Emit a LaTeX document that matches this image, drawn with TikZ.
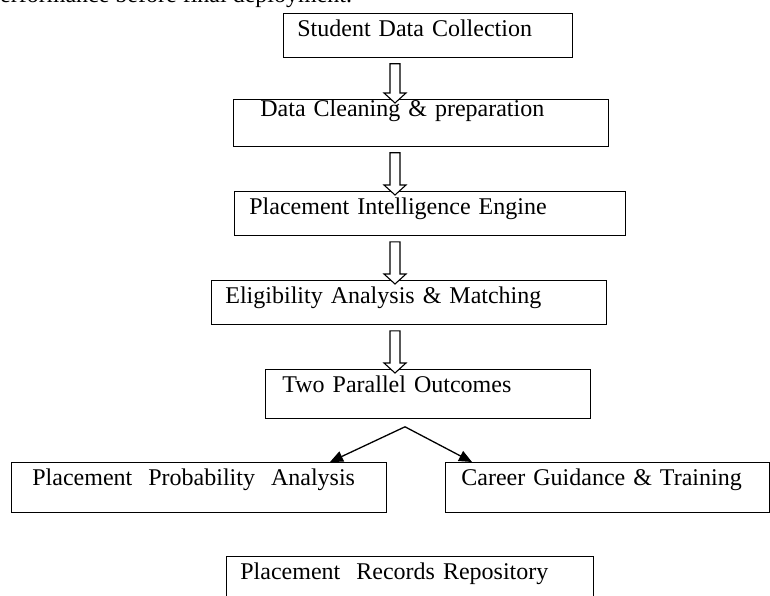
\documentclass[tikz,border=0pt]{standalone}
\usepackage{fontspec}
\setmainfont{Liberation Serif}
\usetikzlibrary{calc,arrows.meta}

% open block arrow straight down between two stages
\newcommand{\hollowarrow}[2]{%
  \draw[hollow] let \p1=($(#1.south -| spine)+(0,6)$), \p2=($(#2.north -| spine)+(0,4)$) in
    (\x1-5pt,\y1) -- (\x1+5pt,\y1) -- (\x1+5pt,\y2+10pt) -- (\x1+11pt,\y2+10pt)
    -- (\x1,\y2) -- (\x1-11pt,\y2+10pt) -- (\x1-5pt,\y2+10pt) -- cycle;}

\begin{document}
\begin{tikzpicture}
    [x=1pt, y=-1pt,
     stage/.style={draw, line width=0.8pt, rectangle, anchor=north west, inner ysep=0pt,
       align=left, font=\fontsize{24}{28}\selectfont, text height=23pt},
     hollow/.style={draw, line width=1.1pt, fill=white, line join=miter},
     fork/.style={line width=1.3pt, -{Triangle[length=13pt,width=11pt]}}]

    \useasboundingbox (0,0) rectangle (770,596);
    \clip (0,0) rectangle (770,596);

    \node (tail) [anchor=base west, font=\fontsize{24}{28}\selectfont, inner sep=0pt]
      at (-12,3) {performance before final deployment.};

    \coordinate (spine) at (395,0);

    \node (collect) [stage, inner xsep=14pt, text width=261pt, text depth=21pt] at (283,13) {Student Data Collection};
    \node (clean)   [stage, inner xsep=27pt, text width=321pt, text height=17pt, text depth=30pt] at (233,99) {Data Cleaning \& preparation};
    \node (engine)  [stage, inner xsep=15pt, text width=361pt, text depth=21pt] at (234,191) {Placement Intelligence Engine};
    \node (match)   [stage, inner xsep=14pt, text width=367pt, text depth=21pt] at (211,280) {Eligibility Analysis \& Matching};
    \node (outcome) [stage, inner xsep=17pt, text width=291pt, text depth=26pt] at (265,369) {Two Parallel Outcomes};
    \node (prob)    [stage, inner xsep=21pt, text width=333pt, text depth=27pt] at (11,462) {Placement\ \ Probability\ \ Analysis};
    \node (guide)   [stage, inner xsep=16pt, text width=292pt, text depth=27pt] at (445,462) {Career Guidance \& Training};
    \node (repo)    [stage, inner xsep=14pt, text width=339pt, text depth=27pt] at (226,556) {Placement\ \ Records Repository};

    \hollowarrow{collect}{clean}
    \hollowarrow{clean}{engine}
    \hollowarrow{engine}{match}
    \hollowarrow{match}{outcome}

    \coordinate (split) at ($(outcome.south -| spine)+(10,8)$);
    \draw[fork] (split) -- ($(prob.north west)+(319,0)$);
    \draw[fork] (split) -- ($(guide.north west)+(27,0)$);
\end{tikzpicture}
\end{document}
